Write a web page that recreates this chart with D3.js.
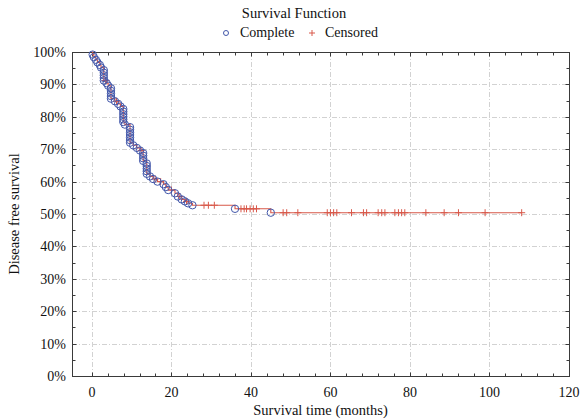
<!DOCTYPE html>
<html>
<head>
<meta charset="utf-8">
<script src="https://cdn.jsdelivr.net/npm/d3@7"></script>
<style>
  body { margin: 0; background: #fff; }
  text { font-family: "Liberation Serif", "Times New Roman", serif; fill: #111; }
  .grid line { stroke: #d2d2d2; stroke-dasharray: 5,2,1,2; }
</style>
</head>
<body>
<script>
// complete (event) observations: time in months, survival fraction
var completeTime = [0.2, 0.5, 1.0, 1.4, 2.0, 2.3,
    3.0, 3.0, 3.0, 3.0, 3.0, 3.7, 4.1,
    4.8, 4.8, 4.8, 4.8, 4.8, 5.8, 6.6, 7.2,
    7.9, 7.9, 7.9, 7.9, 7.9, 7.9, 8.3,
    9.6, 9.6, 9.6, 9.6, 9.6, 9.6, 9.6, 10.4, 11.3, 12.1,
    12.9, 12.9, 12.9, 12.9, 13.8, 13.8, 13.8, 13.8, 13.8,
    14.6, 15.4, 16.5, 18.0, 18.6, 19.2, 20.9, 21.6, 22.6, 23.4, 24.2, 25.3,
    36.0, 45.0];
var completeSurv = [0.992, 0.984, 0.976, 0.968, 0.960, 0.952,
    0.944, 0.936, 0.928, 0.920, 0.912, 0.904, 0.896,
    0.888, 0.880, 0.872, 0.864, 0.856, 0.848, 0.840, 0.832,
    0.824, 0.816, 0.808, 0.800, 0.792, 0.784, 0.776,
    0.768, 0.760, 0.752, 0.744, 0.736, 0.728, 0.720, 0.712, 0.704, 0.696,
    0.688, 0.680, 0.672, 0.664, 0.656, 0.648, 0.640, 0.632, 0.624,
    0.616, 0.608, 0.600, 0.592, 0.583, 0.574, 0.564, 0.554, 0.545, 0.539, 0.533, 0.527,
    0.516, 0.504];

// censored observations
var censoredTime = [3.4, 6.2, 12.4, 15.9, 17.3, 20.0, 22.1, 23.8,
    28.2, 29.3, 30.8,
    37.5, 38.3, 38.9, 39.8, 40.6, 41.4,
    48.1, 49.0, 51.8, 59.2, 60.0, 60.8, 61.6, 65.3, 68.3, 69.1,
    72.0, 72.9, 73.7, 76.2, 77.1, 77.9, 78.7, 84.0, 88.6, 92.2, 98.9, 108.1];
var censoredSurv = [0.912, 0.848, 0.696, 0.608, 0.600, 0.574, 0.554, 0.539,
    0.527, 0.527, 0.527,
    0.516, 0.516, 0.516, 0.516, 0.516, 0.516,
    0.504, 0.504, 0.504, 0.504, 0.504, 0.504, 0.504, 0.504, 0.504, 0.504,
    0.504, 0.504, 0.504, 0.504, 0.504, 0.504, 0.504, 0.504, 0.504, 0.504, 0.504, 0.504];

var xTicks = [0, 20, 40, 60, 80, 100, 120];
var yTicks = [0, 0.1, 0.2, 0.3, 0.4, 0.5, 0.6, 0.7, 0.8, 0.9, 1.0];

var margin = {top: 52, right: 11, bottom: 43, left: 72},
    width = 580 - margin.left - margin.right,
    height = 419 - margin.top - margin.bottom;

var x = d3.scaleLinear().domain([-5, 120]).range([0, width]),
    y = d3.scaleLinear().domain([0, 1]).range([height, 0]);

var svgRoot = d3.select("body").append("svg")
    .attr("width", 580)
    .attr("height", 419);

var svg = svgRoot.append("g")
    .attr("transform", "translate(" + margin.left + "," + margin.top + ")");

// grid
var grid = svg.append("g").attr("class", "grid");
grid.selectAll(".gx")
    .data(xTicks.filter(function(d) { return d < 120; }))
  .enter().append("line")
    .attr("x1", function(d) { return Math.round(x(d)) + 0.5; })
    .attr("x2", function(d) { return Math.round(x(d)) + 0.5; })
    .attr("y1", 0).attr("y2", height);
grid.selectAll(".gy")
    .data(yTicks.filter(function(d) { return d > 0 && d < 1; }))
  .enter().append("line")
    .attr("x1", 0).attr("x2", width)
    .attr("y1", function(d) { return Math.round(y(d)) + 0.5; })
    .attr("y2", function(d) { return Math.round(y(d)) + 0.5; });

// frame
svg.append("rect")
    .attr("x", 0.5).attr("y", 0.5)
    .attr("width", width).attr("height", height)
    .attr("fill", "none")
    .attr("stroke", "#3a3a3a");

// inward ticks (minor every 4 months / 5%)
var xMinor = d3.range(0, 120, 4);
var yMinor = d3.range(0, 1.0001, 0.05);
var ticks = svg.append("g").attr("stroke", "#3a3a3a");
[0, height].forEach(function(yy) {
  ticks.selectAll(null).data(xMinor).enter().append("line")
      .attr("x1", function(d) { return Math.round(x(d)) + 0.5; })
      .attr("x2", function(d) { return Math.round(x(d)) + 0.5; })
      .attr("y1", yy + 0.5)
      .attr("y2", function(d) { return yy + 0.5 + (yy === 0 ? 1 : -1) * (d % 20 === 0 ? 4 : 3); });
});
[0, width].forEach(function(xx) {
  ticks.selectAll(null).data(yMinor).enter().append("line")
      .attr("y1", function(d) { return Math.round(y(d)) + 0.5; })
      .attr("y2", function(d) { return Math.round(y(d)) + 0.5; })
      .attr("x1", xx + 0.5)
      .attr("x2", function(d, i) { return xx + 0.5 + (xx === 0 ? 1 : -1) * (i % 2 === 0 ? 4 : 3); });
});

// tick labels
svg.selectAll(".xl")
    .data(xTicks)
  .enter().append("text")
    .attr("x", function(d) { return x(d); })
    .attr("y", height + 21)
    .attr("text-anchor", "middle")
    .style("font-size", "14px")
    .text(String);

svg.selectAll(".yl")
    .data(yTicks)
  .enter().append("text")
    .attr("x", -6)
    .attr("y", function(d) { return y(d); })
    .attr("dy", ".35em")
    .attr("text-anchor", "end")
    .style("font-size", "14px")
    .text(d3.format(".0%"));

// survival step line through all observations
var pts = completeTime.map(function(t, i) { return [t, completeSurv[i]]; })
    .concat(censoredTime.map(function(t, i) { return [t, censoredSurv[i]]; }));
pts.sort(function(a, b) { return a[0] - b[0] || b[1] - a[1]; });
pts.unshift([0, 1]);

svg.append("path")
    .datum(pts)
    .attr("fill", "none")
    .attr("stroke", "#d8584a")
    .attr("stroke-width", 1.1)
    .attr("d", d3.line()
        .curve(d3.curveStepAfter)
        .x(function(d) { return x(d[0]); })
        .y(function(d) { return y(d[1]); }));

// censored marks
svg.selectAll(".cens")
    .data(censoredTime)
  .enter().append("path")
    .attr("class", "cens")
    .attr("transform", function(d, i) { return "translate(" + x(d) + "," + y(censoredSurv[i]) + ")"; })
    .attr("d", "M-3.5,0H3.5M0,-3.5V3.5")
    .attr("stroke", "#d8584a")
    .attr("stroke-width", 1);

// complete marks
svg.selectAll(".comp")
    .data(completeTime)
  .enter().append("circle")
    .attr("class", "comp")
    .attr("cx", function(d) { return x(d); })
    .attr("cy", function(d, i) { return y(completeSurv[i]); })
    .attr("r", 3.7)
    .attr("fill", "none")
    .attr("stroke", "#4257aa")
    .attr("stroke-width", 1);

// axis titles
svgRoot.append("text")
    .attr("x", margin.left + width / 2)
    .attr("y", 415)
    .attr("text-anchor", "middle")
    .style("font-size", "14.5px")
    .text("Survival time (months)");

svgRoot.append("text")
    .attr("transform", "translate(19," + (margin.top + height / 2) + ") rotate(-90)")
    .attr("text-anchor", "middle")
    .style("font-size", "14.5px")
    .text("Disease free survival");

// legend
svgRoot.append("text")
    .attr("x", 294)
    .attr("y", 18)
    .attr("text-anchor", "middle")
    .style("font-size", "14.5px")
    .text("Survival Function");

var legend = svgRoot.append("g").attr("transform", "translate(0,37)");
legend.append("circle")
    .attr("cx", 226).attr("cy", -4).attr("r", 2.5)
    .attr("fill", "none").attr("stroke", "#4257aa");
legend.append("text").attr("x", 240).attr("y", 0)
    .style("font-size", "14px").text("Complete");
legend.append("path")
    .attr("transform", "translate(312,-4)")
    .attr("d", "M-3,0H3M0,-3V3")
    .attr("stroke", "#d8584a");
legend.append("text").attr("x", 325).attr("y", 0)
    .style("font-size", "14px").text("Censored");
</script>
</body>
</html>
